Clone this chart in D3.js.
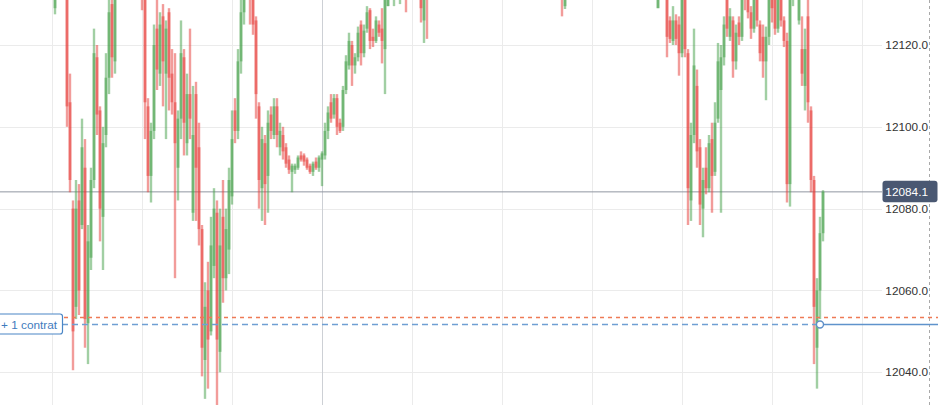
<!DOCTYPE html>
<html>
<head>
<meta charset="utf-8">
<script src="https://cdn.jsdelivr.net/npm/d3@7/dist/d3.min.js"></script>
<style>
  html, body { margin: 0; padding: 0; background: #fff; }
  svg { display: block; }
</style>
</head>
<body>
<svg id="chart" width="938" height="405"></svg>
<script>
// ---- Data (1-minute candles) ----
const opens = [
12129,12134,12135,12136,12131.5,12106,12080,12056,12082,12076,12090,12052,12068,12087,12117,12104,12078,12098,12112,12130,
12116,12132,12135,12137,12136,12134,12136,12138,12136,12134,12131.5,12105,12088,12099,12124,12113,12127,12113,12128,12113,
12106,12090,12102,12117,12096,12108,12079,12108,12095,12075,12043,12060,12050,12066,12079,12045,12078,12063,12070,12083,
12104,12099,12116,12128,12133,12135,12131.5,12126,12105,12085,12096,12088,12103,12098,12105,12095,12098,12095,12092,12089,
12089.5,12090,12093,12093,12092,12090.5,12089,12091.5,12090,12092,12093,12099,12106,12103,12107,12101,12100,12109,12115,12120,
12115,12117,12125,12118,12124,12128.5,12122,12121,12125,12124,12119,12129.5,12133,12131.2,12134,12131.5,12134,12134,12132,12134,
12136,12137,12134,12126,12134,12132,12135,12137,12140,12138,12140,12143,12142,12144,12147,12145,12147,12150,12148,12150,
12152,12150,12148,12150,12152,12151,12149,12147,12149,12147,12145,12146,12144,12142,12144,12142,12140,12142,12141,12139,
12141,12140,12138,12140,12138,12136,12138,12136,12134,12134,12129.5,12132,12135,12138,12140,12138,12140,12143,12142,12144,
12142,12140,12142,12144,12146,12144,12142,12140,12141,12139,12137,12139,12137,12135,12137,12135,12133,12135,12133,12134,
12133,12129,12133,12135,12133,12126,12121,12126,12125,12118,12131.5,12118,12082,12098,12110,12095,12080,12090,12085,12097,
12089,12102,12109,12117,12131.5,12122,12126,12116,12125.5,12122,12134,12133,12128,12124,12131.5,12125,12122,12116,12122,12134,
12132,12124,12131.5,12126,12121,12086,12131,12134,12126,12119,12110,12127,12104,12087,12046,12060,12074
];
const highs = [
12133,12137,12138,12139,12134,12113,12082,12087,12086,12102,12097,12076,12090,12124,12120,12105,12100,12118,12133,12134,
12133,12136,12139,12140,12138,12137,12139,12140,12138,12136,12133,12107,12101,12125,12131,12128,12130,12126,12129,12119,
12118,12104,12126,12119,12113,12124,12110,12111,12101,12076,12062,12067,12078,12085,12082,12080,12087,12080,12090,12104,
12107,12119,12131.5,12134,12137,12137,12134,12127,12106,12100,12098,12104,12105,12107,12107,12101,12100,12096,12093,12091,
12091,12093,12094,12093.5,12092.5,12091,12091.5,12092.5,12093,12094,12101,12105,12108,12108,12108,12102,12110,12117.5,12123,12121,
12118,12124.5,12126,12125,12129.5,12129,12124,12127,12126,12129,12132,12134,12136,12135,12137,12135,12136,12136,12135,12137,
12139,12139,12136,12133,12136,12136,12138,12141,12142,12141,12144,12146,12145,12148,12149,12148,12151,12152,12151,12153,
12154,12152,12151,12153,12155,12153,12151,12150,12151,12149,12148,12148,12146,12145,12146,12144,12143,12144,12143,12142,
12143,12142,12141,12142,12140,12139,12140,12138,12137,12136,12133,12136,12139,12141,12142,12141,12144,12145,12145,12146,
12144,12143,12145,12147,12148,12146,12144,12142,12143,12141,12140,12141,12139,12138,12139,12137,12136,12137,12135,12136,
12135,12134,12136,12137,12135,12127,12129.5,12127.5,12127,12133,12134,12119,12101,12124,12114,12097,12090,12095,12098,12101,
12106,12120.5,12120,12127,12134,12129,12127,12125,12127,12133,12136,12135,12129.5,12133,12134,12126,12125,12124.5,12133,12136,
12134,12133,12134,12127,12123,12133,12135,12137,12134,12127,12124,12132,12105,12088,12063,12078,12084.5
];
const lows = [
12127.5,12132,12133,12133,12100,12084,12040.5,12053,12054,12075,12046,12042,12065,12085,12098,12072,12065,12095,12108,12112,
12113,12131.5,12133,12134,12133,12132,12134,12135,12133,12128.5,12097,12084,12081.5,12097,12109,12110,12105,12097,12104,12103,
12063,12082,12097,12093,12093,12097,12077,12077,12071,12039,12033.5,12036,12049,12063,12031.5,12040,12057,12060,12064,12081,
12096,12097,12113,12125,12132,12125,12122.5,12102,12080,12077,12076,12079,12097,12097,12095,12093,12092,12090,12088.5,12084,
12088.5,12089.5,12091.5,12090.5,12089.5,12088.5,12088,12089.5,12089,12085.5,12092,12097,12101,12102,12098,12098.5,12099,12108,12114,12110,
12113,12116,12115,12117,12123,12119,12119.5,12120.5,12122,12115.5,12108,12129.5,12131.5,12129.5,12132,12130,12132,12128,12131.5,12132,
12134,12133,12125.5,12120.5,12121.5,12131.5,12133,12135,12137,12136,12139,12141,12140,12143,12144,12143,12146,12147,12146,12148,
12149,12147,12146,12149,12150,12148,12146,12145,12146,12144,12143,12143,12141,12140,12141,12139,12138,12140,12138,12137,
12139,12137,12136,12137,12135,12134,12135,12133,12132,12127,12128.8,12131.5,12134,12136,12137,12136,12139,12141,12140,12141,
12139,12138,12141,12142,12143,12141,12139,12137,12138,12136,12135,12136,12134,12133,12134,12132,12132,12132,12131.5,12132,
12131.5,12129,12132,12132,12117,12120.5,12120,12120,12112.5,12117,12117,12076,12077,12096,12090,12076,12073,12083.5,12084,12079,
12088,12101,12079,12115,12122,12121,12112,12114,12120,12121,12128.5,12126.5,12121.5,12123,12124.5,12116,12112,12106.5,12120,12125.5,
12122.5,12123,12124.5,12119.5,12081.5,12080.5,12129.5,12132,12125,12110,12104,12101,12084,12042,12036,12053,12072
];
const closes = [
12132,12135,12136,12134,12105,12087,12050,12080,12060,12095,12053,12072,12087,12118,12103,12080,12096,12112,12128,12117,
12131.5,12135,12137,12136,12134,12136,12138,12136,12134,12132,12106,12088,12099,12120,12114,12125,12116,12124,12112,12106,
12096,12102,12118,12101,12108,12102,12098,12090,12075,12046,12056,12048,12071,12080,12048,12071,12063,12075,12087,12097,
12099,12116,12128,12133,12135,12131.5,12125,12108,12087,12097,12086,12101,12099,12105,12098,12099,12094,12091,12089.5,12090.5,
12090.5,12092.5,12092,12091.5,12090,12089,12091,12090,12092.5,12093.5,12099,12103.5,12102,12107,12100,12099,12109,12116,12121,12115,
12117,12123,12118,12123.5,12128,12121,12121,12126,12123,12121,12131.5,12133,12135,12134,12133,12134,12135,12132,12134,12136,
12137,12134,12129,12132,12132,12135,12137,12140,12138,12140,12143,12142,12144,12147,12145,12147,12150,12148,12150,12152,
12150,12148,12150,12152,12151,12149,12147,12149,12147,12145,12146,12144,12142,12144,12142,12140,12142,12141,12139,12141,
12140,12138,12140,12138,12136,12138,12136,12134,12135,12131.5,12132,12135,12138,12140,12138,12140,12143,12142,12144,12142,
12140,12142,12144,12146,12144,12142,12140,12141,12139,12137,12139,12137,12135,12137,12135,12133,12135,12133,12134,12133,
12132,12133,12135,12133,12122,12121.5,12126,12121.5,12118,12131.5,12119,12085,12098,12115,12094,12081,12087,12085,12096,12088,
12101,12116,12117,12125,12124,12127,12116,12123,12122,12131.5,12131.5,12128,12124,12131.5,12126,12118,12116,12122,12131.5,12129,
12124,12131.5,12126,12121,12086,12131.5,12134,12135,12133,12113,12119,12106,12087,12056,12060,12074,12084.1
];

const priceTicks = [12040, 12060, 12080, 12100, 12120];
const timeGrid = [0, 30, 60, 90, 120, 150, 180, 210, 240, 270]; // minutes
const sessionStart = 90;            // minute of the darker separator
const lastPrice = 12084.1;
const orderPrice = 12053.5;         // red dashed order line
const positionPrice = 12051.75;     // blue position line
const positionEntryIndex = 255;     // candle where the position was opened
const positionLabel = "+ 1 contrat";

// ---- Layout ----
const W = 938, H = 405;
const plotRight = 882;
const svg = d3.select("#chart");

const x = d3.scaleLinear().domain([0, 1]).range([52, 55]); // 3px per minute
const y = d3.scaleLinear().domain([12032, 12131]).range([H, 0]);

const candles = closes.map((c, i) => ({
  t: i + 1, o: opens[i], h: highs[i], l: lows[i], c: c
}));

svg.append("defs").append("clipPath").attr("id", "plotClip")
  .append("rect").attr("x", 0).attr("y", 0).attr("width", plotRight).attr("height", H);

// grid
const grid = svg.append("g");
grid.selectAll(".hg").data(priceTicks).join("line")
  .attr("x1", 0).attr("x2", plotRight)
  .attr("y1", d => Math.round(y(d)) + 0.5).attr("y2", d => Math.round(y(d)) + 0.5)
  .attr("stroke", "#ebebeb").attr("stroke-width", 1);
grid.selectAll(".vg").data(timeGrid).join("line")
  .attr("x1", d => Math.round(x(d)) + 0.5).attr("x2", d => Math.round(x(d)) + 0.5)
  .attr("y1", 0).attr("y2", H)
  .attr("stroke", d => d === sessionStart ? "#cdd0d5" : "#ebebeb").attr("stroke-width", 1);

// right axis dashed border
svg.append("line")
  .attr("x1", 929.5).attr("x2", 929.5).attr("y1", 0).attr("y2", H)
  .attr("stroke", "#a9a9a9").attr("stroke-dasharray", "3,3");

// current price line
svg.append("line")
  .attr("x1", 0).attr("x2", plotRight)
  .attr("y1", y(lastPrice)).attr("y2", y(lastPrice))
  .attr("stroke", "#9097a1").attr("stroke-width", 1);

// candles
const red = "#e53935", green = "#43a047";
const cg = svg.append("g").attr("clip-path", "url(#plotClip)");
cg.selectAll(".wick").data(candles).join("line")
  .attr("x1", d => x(d.t)).attr("x2", d => x(d.t))
  .attr("y1", d => y(d.h)).attr("y2", d => y(d.l))
  .attr("stroke", d => d.c >= d.o ? green : red)
  .attr("stroke-width", 2.4)
  .attr("stroke-opacity", 0.5);
cg.selectAll(".body").data(candles).join("rect")
  .attr("x", d => x(d.t) - 1.5).attr("width", 3)
  .attr("y", d => y(Math.max(d.o, d.c)))
  .attr("height", d => Math.max(1, Math.abs(y(d.o) - y(d.c))))
  .attr("fill", d => d.c >= d.o ? green : red)
  .attr("fill-opacity", 0.5);

// order line (red dashed)
svg.append("line")
  .attr("x1", 0).attr("x2", W)
  .attr("y1", Math.round(y(orderPrice)) + 0.5).attr("y2", Math.round(y(orderPrice)) + 0.5)
  .attr("stroke", "#ee7a55").attr("stroke-width", 1.3).attr("stroke-dasharray", "4,4");

// position line: dashed until entry, solid after
const entryX = x(positionEntryIndex + 1);
const py = Math.round(y(positionPrice)) + 0.5;
svg.append("line")
  .attr("x1", 62).attr("x2", entryX).attr("y1", py).attr("y2", py)
  .attr("stroke", "#6f9fd3").attr("stroke-width", 1.3).attr("stroke-dasharray", "6,4");
svg.append("line")
  .attr("x1", entryX).attr("x2", W).attr("y1", py).attr("y2", py)
  .attr("stroke", "#5f93cc").attr("stroke-width", 1.3);
svg.append("circle")
  .attr("cx", entryX).attr("cy", py).attr("r", 3.5)
  .attr("fill", "#fff").attr("stroke", "#5f8fc8").attr("stroke-width", 1.4);

// position label
const lab = svg.append("g");
lab.append("rect")
  .attr("x", -4).attr("y", py - 10.5).attr("width", 66.5).attr("height", 20)
  .attr("rx", 2.5).attr("fill", "#fff").attr("stroke", "#4a86c6").attr("stroke-width", 1.2);
lab.append("text")
  .attr("x", 1).attr("y", py + 4.2)
  .attr("font-family", "'Liberation Sans', Arial, sans-serif").attr("font-size", 11.8)
  .attr("fill", "#3f7bbd").text(positionLabel);

// price axis labels
svg.append("g").selectAll("text").data(priceTicks).join("text")
  .attr("x", 928).attr("y", d => y(d) + 4.2)
  .attr("text-anchor", "end")
  .attr("font-family", "'Liberation Sans', Arial, sans-serif").attr("font-size", 11.8)
  .attr("fill", "#333").text(d => d3.format(".1f")(d));

// last price badge
const ly = y(lastPrice);
svg.append("rect")
  .attr("x", 882.5).attr("y", ly - 11).attr("width", 55).attr("height", 21.5)
  .attr("rx", 3).attr("fill", "#4a5872");
svg.append("text")
  .attr("x", 928).attr("y", ly + 4.2).attr("text-anchor", "end")
  .attr("font-family", "'Liberation Sans', Arial, sans-serif").attr("font-size", 11.8)
  .attr("fill", "#fff").text(d3.format(".1f")(lastPrice));
</script>
</body>
</html>
